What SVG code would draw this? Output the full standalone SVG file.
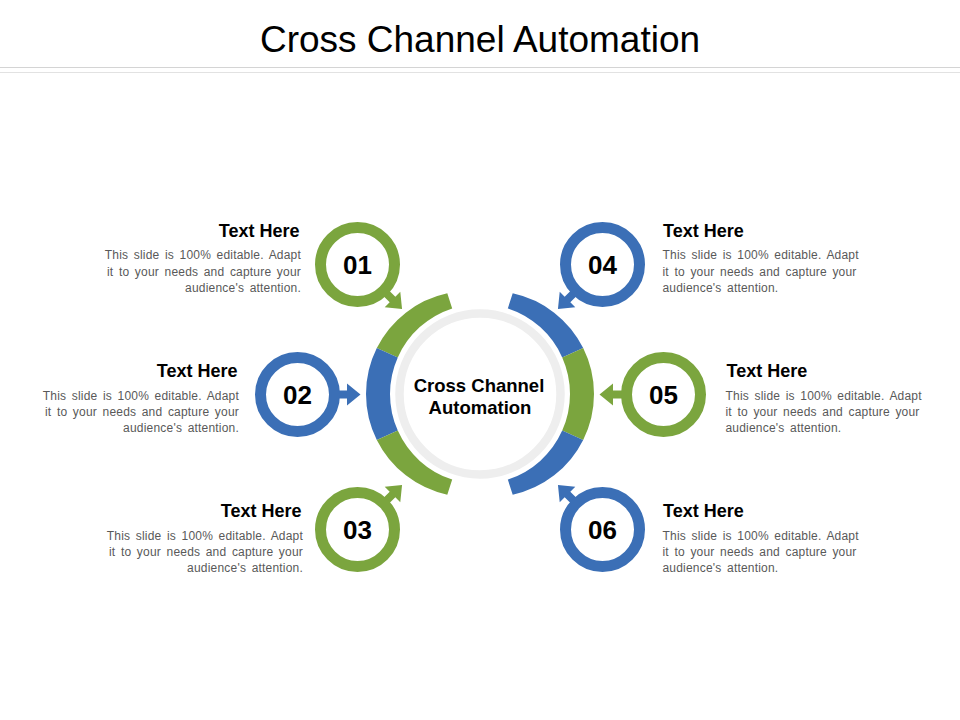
<svg xmlns="http://www.w3.org/2000/svg" xmlns:xlink="http://www.w3.org/1999/xlink" width="960" height="720" viewBox="0 0 960 720">
  <style>
    .title { font-family: "Liberation Sans", Arial, sans-serif; font-size: 37px; fill: #000; }
    .head { font-family: "Liberation Sans", Arial, sans-serif; font-size: 18px; font-weight: bold; fill: #000; }
    .body { font-family: "Liberation Sans", Arial, sans-serif; font-size: 12px; fill: #595959; letter-spacing: 0.2px; word-spacing: 2px; }
    .num { font-family: "Liberation Sans", Arial, sans-serif; font-size: 26px; font-weight: bold; fill: #000; text-anchor: middle; }
    .hub { font-family: "Liberation Sans", Arial, sans-serif; font-size: 18.5px; font-weight: bold; fill: #000; text-anchor: middle; }
    .green { fill: #7BA53E; }
    .blue { fill: #3B6FB6; }
    .ringG { fill: none; stroke: #7BA53E; stroke-width: 11; }
    .ringB { fill: none; stroke: #3B6FB6; stroke-width: 11; }
    .end { text-anchor: end; }
  </style>
  <defs>
    <path id="arr" d="M36,-4 H49.5 V-11 L63,0 L49.5,11 V4 H36 Z"/>
  </defs>
  <rect width="960" height="720" fill="#FFFFFF"/>

  <g id="header">
    <text class="title" x="480" y="52" text-anchor="middle">Cross Channel Automation</text>
    <line x1="0" y1="67.5" x2="960" y2="67.5" stroke="#D4D4D4" stroke-width="1"/>
    <line x1="0" y1="72.5" x2="960" y2="72.5" stroke="#E2E2E2" stroke-width="1"/>
  </g>

  <g id="hub">
    <circle cx="480" cy="394" r="80.5" fill="none" stroke="#EEEEEE" stroke-width="8.5"/>
    <path class="green" d="M447.29,293.31 A103,103 0 0 0 376.82,348.06 L397.78,357.39 A90,90 0 0 1 452.19,308.40 Z"/>
    <path class="blue" d="M376.82,348.06 A103,103 0 0 0 376.82,439.94 L397.78,430.61 A90,90 0 0 1 397.78,357.39 Z"/>
    <path class="green" d="M376.82,439.94 A103,103 0 0 0 447.29,494.69 L452.19,479.60 A90,90 0 0 1 397.78,430.61 Z"/>
    <path class="blue" d="M512.71,293.31 A103,103 0 0 1 583.18,348.06 L562.22,357.39 A90,90 0 0 0 507.81,308.40 Z"/>
    <path class="green" d="M583.18,348.06 A103,103 0 0 1 583.18,439.94 L562.22,430.61 A90,90 0 0 0 562.22,357.39 Z"/>
    <path class="blue" d="M583.18,439.94 A103,103 0 0 1 512.71,494.69 L507.81,479.60 A90,90 0 0 0 562.22,430.61 Z"/>
    <text class="hub" x="479" y="391.5">Cross Channel</text>
    <text class="hub" x="480" y="414">Automation</text>
  </g>

  <g id="connectors">
    <use xlink:href="#arr" class="green" transform="translate(357.5,264.5) rotate(45)"/>
    <use xlink:href="#arr" class="blue" transform="translate(297.5,394.5)"/>
    <use xlink:href="#arr" class="green" transform="translate(357.5,529.5) rotate(-45)"/>
    <use xlink:href="#arr" class="blue" transform="translate(602.5,264.5) rotate(135)"/>
    <use xlink:href="#arr" class="green" transform="translate(662.5,394.5) rotate(180)"/>
    <use xlink:href="#arr" class="blue" transform="translate(602.5,529.5) rotate(-135)"/>
  </g>

  <g id="node01">
    <circle class="ringG" cx="357.5" cy="264.5" r="37"/>
    <text class="num" x="357.5" y="274">01</text>
    <text class="head end" x="299.5" y="237">Text Here</text>
    <text class="body end" x="301" y="259">This slide is 100% editable. Adapt</text>
    <text class="body end" x="301" y="275.5">it to your needs and capture your</text>
    <text class="body end" x="301" y="291.5">audience's attention.</text>
  </g>

  <g id="node02">
    <circle class="ringB" cx="297.5" cy="394.5" r="37"/>
    <text class="num" x="297.5" y="404">02</text>
    <text class="head end" x="237.5" y="377">Text Here</text>
    <text class="body end" x="239" y="399.5">This slide is 100% editable. Adapt</text>
    <text class="body end" x="239" y="415.5">it to your needs and capture your</text>
    <text class="body end" x="239" y="431.5">audience's attention.</text>
  </g>

  <g id="node03">
    <circle class="ringG" cx="357.5" cy="529.5" r="37"/>
    <text class="num" x="357.5" y="539">03</text>
    <text class="head end" x="301.5" y="517">Text Here</text>
    <text class="body end" x="303" y="539.5">This slide is 100% editable. Adapt</text>
    <text class="body end" x="303" y="555.5">it to your needs and capture your</text>
    <text class="body end" x="303" y="571.5">audience's attention.</text>
  </g>

  <g id="node04">
    <circle class="ringB" cx="602.5" cy="264.5" r="37"/>
    <text class="num" x="602.5" y="274">04</text>
    <text class="head" x="663" y="237">Text Here</text>
    <text class="body" x="662.5" y="259">This slide is 100% editable. Adapt</text>
    <text class="body" x="662.5" y="275.5">it to your needs and capture your</text>
    <text class="body" x="662.5" y="291.5">audience's attention.</text>
  </g>

  <g id="node05">
    <circle class="ringG" cx="663.5" cy="394.5" r="37"/>
    <text class="num" x="663.5" y="404">05</text>
    <text class="head" x="726.5" y="377">Text Here</text>
    <text class="body" x="725.5" y="399.5">This slide is 100% editable. Adapt</text>
    <text class="body" x="725.5" y="415.5">it to your needs and capture your</text>
    <text class="body" x="725.5" y="431.5">audience's attention.</text>
  </g>

  <g id="node06">
    <circle class="ringB" cx="602.5" cy="529.5" r="37"/>
    <text class="num" x="602.5" y="539">06</text>
    <text class="head" x="663" y="517">Text Here</text>
    <text class="body" x="662.5" y="539.5">This slide is 100% editable. Adapt</text>
    <text class="body" x="662.5" y="555.5">it to your needs and capture your</text>
    <text class="body" x="662.5" y="571.5">audience's attention.</text>
  </g>
</svg>
